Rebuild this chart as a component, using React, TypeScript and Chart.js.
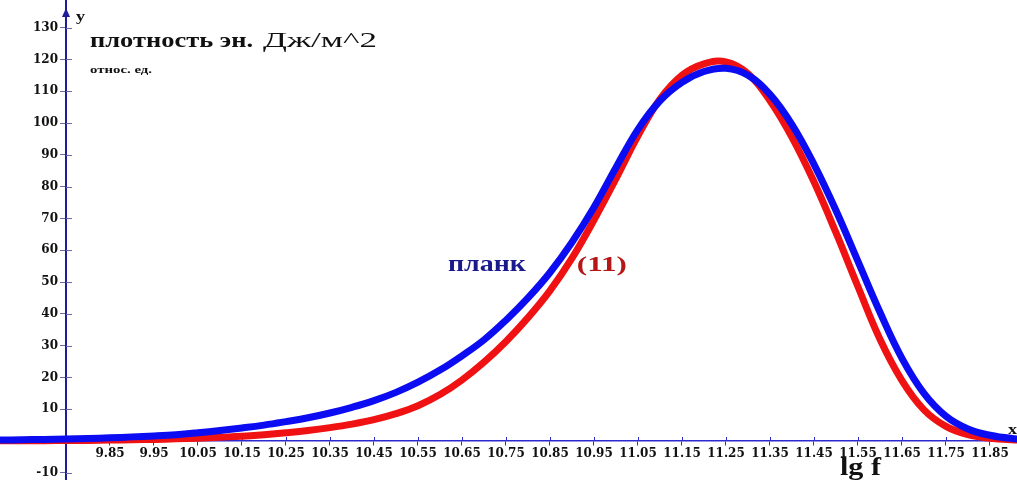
import React, { useEffect, useRef } from 'react';
import { Chart, registerables } from 'chart.js';

Chart.register(...registerables);

// lg f grid
const lgF = [
  9.6, 9.65, 9.7, 9.75, 9.8, 9.85, 9.9, 9.95, 10.0, 10.05, 10.1, 10.15, 10.2, 10.25, 10.3, 10.35,
  10.4, 10.45, 10.5, 10.55, 10.6, 10.65, 10.7, 10.75, 10.8, 10.85, 10.9, 10.95, 11.0, 11.05, 11.1, 11.15,
  11.2, 11.25, 11.3, 11.35, 11.4, 11.45, 11.5, 11.55, 11.6, 11.65, 11.7, 11.75, 11.8, 11.85, 11.9, 11.95,
];

// "планк" (blue)
const planck = [
  0.3, 0.4, 0.5, 0.6, 0.8, 1.0, 1.3, 1.6, 2.0, 2.6, 3.3, 4.1, 5.0, 6.1, 7.3, 8.8,
  10.6, 12.7, 15.3, 18.5, 22.3, 26.8, 31.8, 38, 45, 53, 62.5, 73.5, 86, 98, 107, 112.8,
  116.2, 117.2, 115, 109, 99.5, 87, 72.5, 56.5, 40.5, 26, 15, 7.8, 3.8, 1.8, 0.8, 0.4,
];

// "(11)" (red)
const formula11 = [
  0.05, 0.08, 0.1, 0.15, 0.2, 0.3, 0.4, 0.5, 0.7, 0.9, 1.2, 1.5, 2.0, 2.6, 3.3, 4.2,
  5.3, 6.7, 8.6, 11.1, 14.6, 19.2, 24.8, 31.3, 38.8, 47.3, 57.5, 69.5, 82.5, 96, 107.5, 115,
  118.6, 119.2, 115.5, 107, 95.5, 81.5, 65.5, 48.5, 32, 19, 9.8, 4.6, 2.0, 0.9, 0.4, 0.15,
];

const xTickValues = [9.85, 9.95, 10.05, 10.15, 10.25, 10.35, 10.45, 10.55, 10.65, 10.75, 10.85, 10.95, 11.05, 11.15, 11.25, 11.35, 11.45, 11.55, 11.65, 11.75, 11.85];
const xTickLabels = ['9.85', '9.95', '10.05', '10.15', '10.25', '10.35', '10.45', '10.55', '10.65', '10.75', '10.85', '10.95', '11.05', '11.15', '11.25', '11.35', '11.45', '11.55', '11.65', '11.75', '11.85'];
const yTickValues = [-10, 0, 10, 20, 30, 40, 50, 60, 70, 80, 90, 100, 110, 120, 130];
const yTickLabels = ['-10', '', '10', '20', '30', '40', '50', '60', '70', '80', '90', '100', '110', '120', '130'];

const X_MIN = 9.75;
const X_MAX = 11.9114;
const Y_MIN = -12.26;
const Y_MAX = 138.68;

const AXIS_Y_COLOR = '#1e1e9c';
const AXIS_X_COLOR = '#2a2ad0';
const Y_TICK_COLOR = '#6a6ab0';
const BLUE = '#0c0cf2';
const RED = '#f01212';

function stretchText(ctx: CanvasRenderingContext2D, text: string, x: number, y: number, font: string, color: string, width: number) {
  ctx.save();
  ctx.font = font;
  ctx.fillStyle = color;
  ctx.textAlign = 'left';
  ctx.textBaseline = 'alphabetic';
  const w = ctx.measureText(text).width;
  ctx.translate(x, y);
  ctx.scale(width / w, 1);
  ctx.fillText(text, 0, 0);
  ctx.restore();
}

// tick marks on the inner side of the axes (the library draws the outer half)
const innerTicksPlugin = {
  id: 'innerTicks',
  beforeDatasetsDraw(chart: any) {
    const ctx: CanvasRenderingContext2D = chart.ctx;
    const xs = chart.scales.x;
    const ys = chart.scales.y;
    const ax = xs.getPixelForValue(X_MIN);
    const ay = ys.getPixelForValue(0);
    ctx.save();
    ctx.lineWidth = 1;
    ctx.strokeStyle = Y_TICK_COLOR;
    yTickValues.forEach((v) => {
      const py = Math.round(ys.getPixelForValue(v)) + 0.5;
      ctx.beginPath();
      ctx.moveTo(ax, py);
      ctx.lineTo(ax + 6, py);
      ctx.stroke();
    });
    ctx.strokeStyle = AXIS_X_COLOR;
    xTickValues.forEach((v) => {
      const px = Math.round(xs.getPixelForValue(v)) + 0.5;
      ctx.beginPath();
      ctx.moveTo(px, ay);
      ctx.lineTo(px, ay - 4);
      ctx.stroke();
    });
    ctx.restore();
  },
};

const decorPlugin = {
  id: 'decor',
  afterDraw(chart: any) {
    const ctx: CanvasRenderingContext2D = chart.ctx;
    const xs = chart.scales.x;
    const ys = chart.scales.y;
    const ax = xs.getPixelForValue(X_MIN);
    ctx.save();
    ctx.fillStyle = AXIS_Y_COLOR;
    ctx.beginPath();
    ctx.moveTo(ax, 8);
    ctx.lineTo(ax - 4, 17);
    ctx.lineTo(ax + 4, 17);
    ctx.closePath();
    ctx.fill();
    ctx.restore();
    const serif = '"Liberation Serif", "Times New Roman", serif';
    stretchText(ctx, 'y', ax + 10, 21, `bold 14px ${serif}`, '#111', 9);
    stretchText(ctx, 'x', 1008, 434, `bold 14px ${serif}`, '#111', 9);
    stretchText(ctx, 'плотность эн.', ax + 24, 47, `bold 22px ${serif}`, '#111', 163);
    stretchText(ctx, 'Дж/м^2', ax + 197, 47, `22px ${serif}`, '#111', 114);
    stretchText(ctx, 'относ. ед.', ax + 24, 73, `bold 11px ${serif}`, '#111', 62);
    stretchText(ctx, 'lg f', xs.getPixelForValue(11.509), ys.getPixelForValue(-10.7), `bold 26px ${serif}`, '#111', 41);
    stretchText(ctx, 'планк', xs.getPixelForValue(10.618), ys.getPixelForValue(53.5), `bold 24px ${serif}`, '#1a1a8e', 78);
    stretchText(ctx, '(11)', xs.getPixelForValue(10.911), ys.getPixelForValue(53.5), `bold 22px ${serif}`, '#b51616', 50);
  },
};

export default function App() {
  const canvasRef = useRef<HTMLCanvasElement | null>(null);

  useEffect(() => {
    if (!canvasRef.current) return;
    const tickFont = { family: '"DejaVu Serif", serif', weight: 'bold' as const, size: 12 };
    const zeroPad = (s: any) => {
      s.paddingTop = 0;
      s.paddingBottom = 0;
      s.paddingLeft = 0;
      s.paddingRight = 0;
    };
    const chart = new Chart(canvasRef.current, {
      type: 'line',
      data: {
        datasets: [
          {
            label: 'планк',
            data: lgF.map((x, i) => ({ x, y: planck[i] })),
            borderColor: BLUE,
            borderWidth: 7,
            pointRadius: 0,
            tension: 0.4,
            clip: false as any,
            fill: false,
          },
          {
            label: '(11)',
            data: lgF.map((x, i) => ({ x, y: formula11[i] })),
            borderColor: RED,
            borderWidth: 7,
            pointRadius: 0,
            tension: 0.4,
            clip: false as any,
            fill: false,
          },
        ],
      },
      options: {
        animation: false,
        responsive: false,
        layout: { padding: 0, autoPadding: false } as any,
        plugins: { legend: { display: false }, tooltip: { enabled: false }, title: { display: false } },
        events: [],
        scales: {
          x: {
            type: 'linear',
            bounds: 'data',
            position: { y: 0 } as any,
            afterDataLimits: (s: any) => { s.min = X_MIN; s.max = X_MAX; },
            afterFit: (s: any) => { s.height = 0; zeroPad(s); },
            afterBuildTicks: (s: any) => { s.ticks = xTickValues.map((v) => ({ value: v })); },
            ticks: {
              autoSkip: false,
              maxRotation: 0,
              padding: 2,
              color: '#111',
              font: tickFont,
              callback: (_v: any, i: number) => xTickLabels[i],
            },
            grid: { drawOnChartArea: false, drawTicks: true, tickLength: 4, color: AXIS_X_COLOR, lineWidth: 1 },
            border: { color: AXIS_X_COLOR, width: 1.5 },
          },
          y: {
            type: 'linear',
            min: Y_MIN,
            max: Y_MAX,
            position: 'left',
            afterFit: (s: any) => { s.width = 66; zeroPad(s); },
            afterBuildTicks: (s: any) => { s.ticks = yTickValues.map((v) => ({ value: v })); },
            ticks: {
              autoSkip: false,
              padding: 2,
              color: '#111',
              font: tickFont,
              callback: (_v: any, i: number) => yTickLabels[i],
            },
            grid: { drawOnChartArea: false, drawTicks: true, tickLength: 6, color: Y_TICK_COLOR, lineWidth: 1 },
            border: { color: AXIS_Y_COLOR, width: 2 },
          },
        },
      },
      plugins: [innerTicksPlugin, decorPlugin],
    });
    return () => chart.destroy();
  }, []);

  return (
    <div style={{ position: 'absolute', left: 0, top: 0, width: 1017, height: 480, background: '#fff' }}>
      <canvas ref={canvasRef} width={1017} height={480} style={{ display: 'block' }} />
    </div>
  );
}
